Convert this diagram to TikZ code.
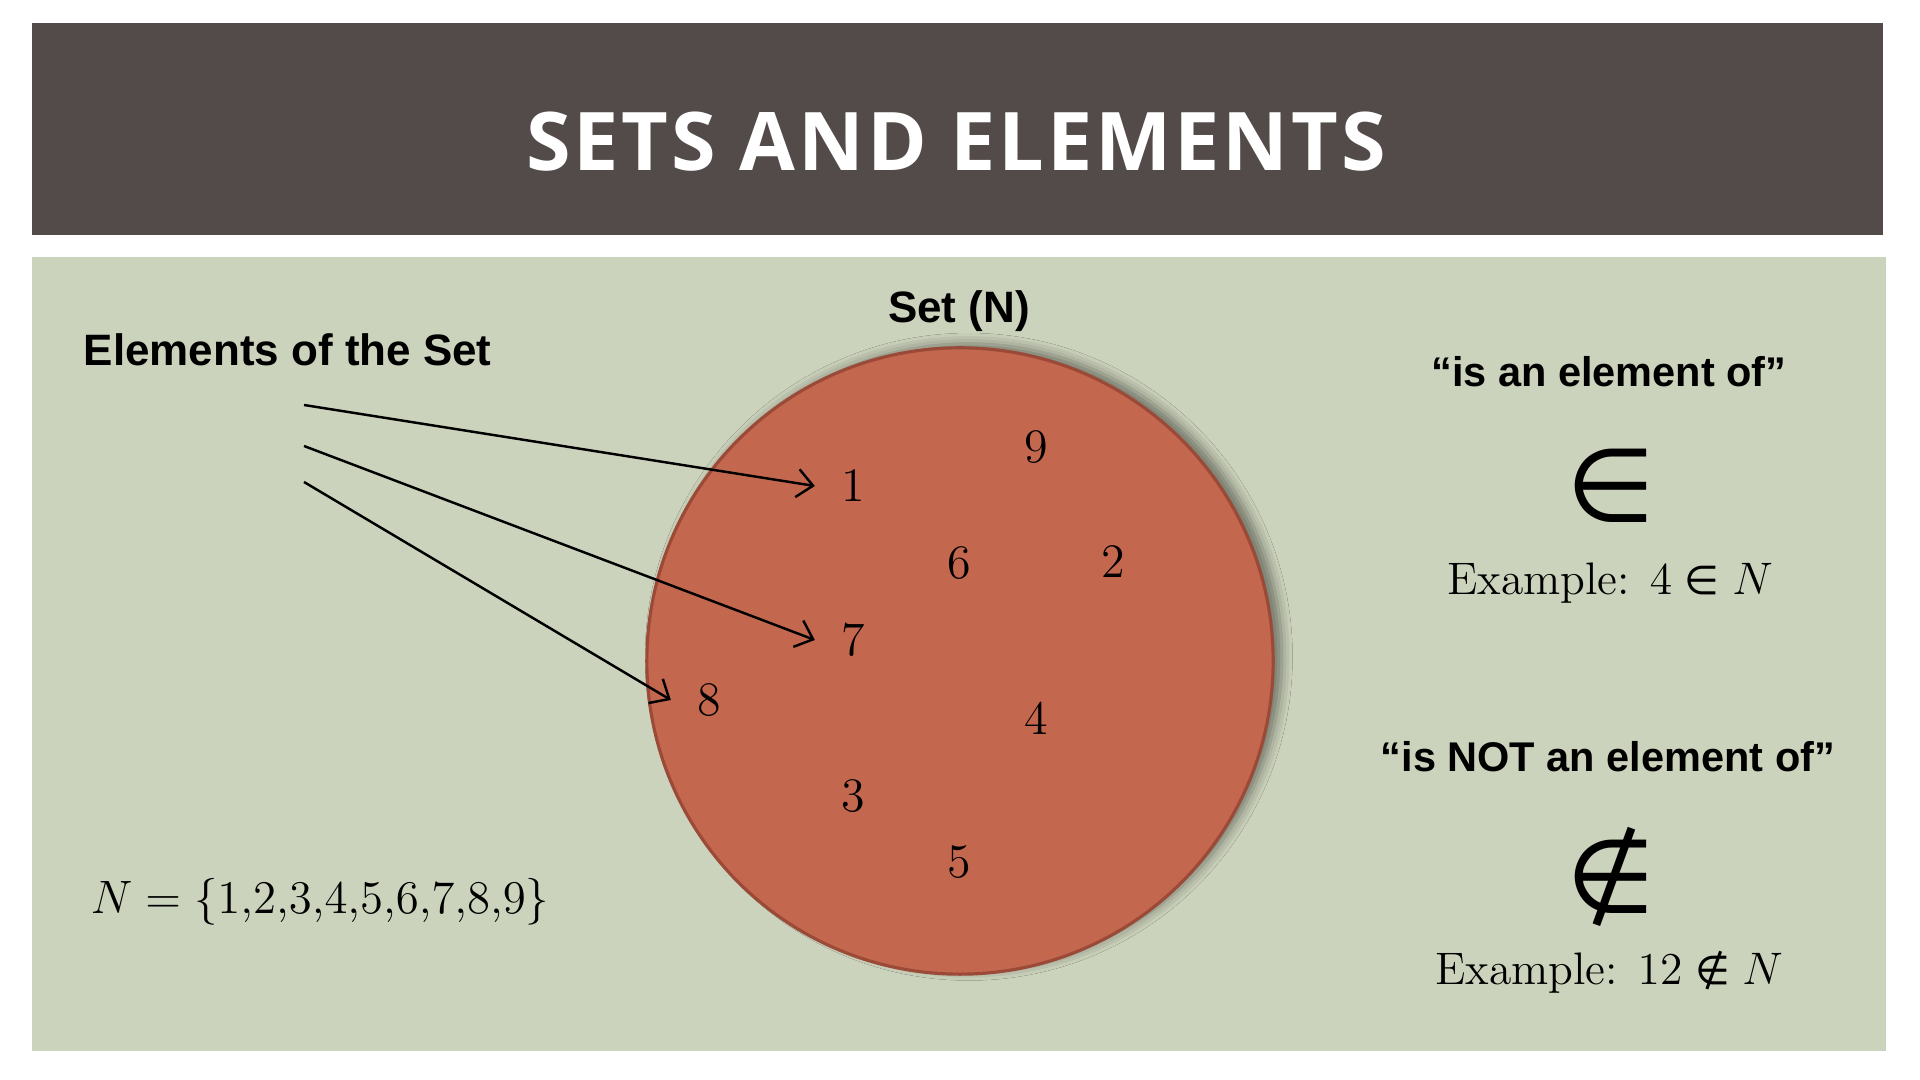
\documentclass[tikz,border=0pt]{standalone}
\usepackage{fontspec}
\newfontfamily\titlefont[LetterSpace=3.5]{Open Sans}
\newfontfamily\labfont{Liberation Sans}
\newfontfamily\symfont{DejaVu Sans}
\usetikzlibrary{arrows.meta,shadows.blur}
\definecolor{barcol}{HTML}{534A4A}
\definecolor{bgcol}{HTML}{CCD3BC}
\definecolor{setfill}{HTML}{C4674F}
\definecolor{setdraw}{HTML}{9C4A38}
\newcommand{\exs}[2]{\scalebox{#1}{\fontsize{12}{14}\selectfont #2}}
\newcommand{\relsym}[1]{\mathrel{\hbox{\symfont\fontsize{10.5}{12}\selectfont #1}}}
\tikzset{
  lab/.style={font=\labfont\bfseries\fontsize{12.5}{15}\selectfont, inner sep=0pt},
  qlab/.style={font=\labfont\bfseries\fontsize{11.8}{14}\selectfont, inner sep=0pt},
  num/.style={font=\fontsize{13.65}{16}\selectfont, inner xsep=7.3pt, inner ysep=0pt},
  ex/.style={inner sep=0pt},
  bigsym/.style={font=\symfont\fontsize{29}{32}\selectfont, inner sep=0pt, text depth=0pt},
  arr/.style={-{Straight Barb[length=4.5pt,width=8pt]}, line width=0.7pt, black},
}
\begin{document}
\begin{tikzpicture}[x=0.01cm,y=-0.01cm]
\useasboundingbox (0,0) rectangle (1920,1080);
\fill[white] (0,0) rectangle (1920,1080);
\fill[barcol] (32,23) rectangle (1883,235);
\fill[bgcol] (32,257) rectangle (1886,1051);
\node[text=white, font=\titlefont\bfseries\fontsize{23}{28}\selectfont] (title) at (956,142) {SETS AND ELEMENTS};

\node[circle, minimum size=6.26cm, inner sep=0pt, fill=setfill, draw=setdraw, line width=0.9pt,
  blur shadow={shadow xshift=2.5pt, shadow yshift=1.2pt, shadow blur radius=3pt, shadow opacity=45}] (set) at (960,661) {};

\node[lab] (setn) at (959,311) {Set (N)};
\node[lab, anchor=west] (elem) at (83,350) {Elements of the Set};

\node[num] (n1) at (853,486) {1};
\node[num] (n9) at (1036,447) {9};
\node[num] (n6) at (959,563) {6};
\node[num] (n2) at (1113,562) {2};
\node[num] (n7) at (853,640) {7};
\node[num] (n8) at (709,700) {8};
\node[num] (n4) at (1036,718) {4};
\node[num] (n3) at (853,796) {3};
\node[num] (n5) at (959,862) {5};

\coordinate (a1) at (304,405);
\coordinate (a2) at (304,446);
\coordinate (a3) at (304,482);
\draw[arr] (a1) -- (n1.west);
\draw[arr] (a2) -- (n7.west);
\draw[arr] (a3) -- (n8.west);

\node[ex] (nset) at (320,902) {\exs{1.11}{$N=\{1{,}2{,}3{,}4{,}5{,}6{,}7{,}8{,}9\}$}};

\node[qlab] (q1) at (1609,372) {“is an element of”};
\node[bigsym] (sym1) at (1611,485) {∈};
\node[ex] (ex1) at (1610,583) {\exs{1.08}{Example: $4\relsym{∈}N$}};
\node[qlab] (q2) at (1608,757) {“is NOT an element of”};
\node[bigsym] (sym2) at (1611,870) {∉};
\node[ex] (ex2) at (1609,972) {\exs{1.08}{Example: $12\relsym{∉}N$}};
\end{tikzpicture}
\end{document}
